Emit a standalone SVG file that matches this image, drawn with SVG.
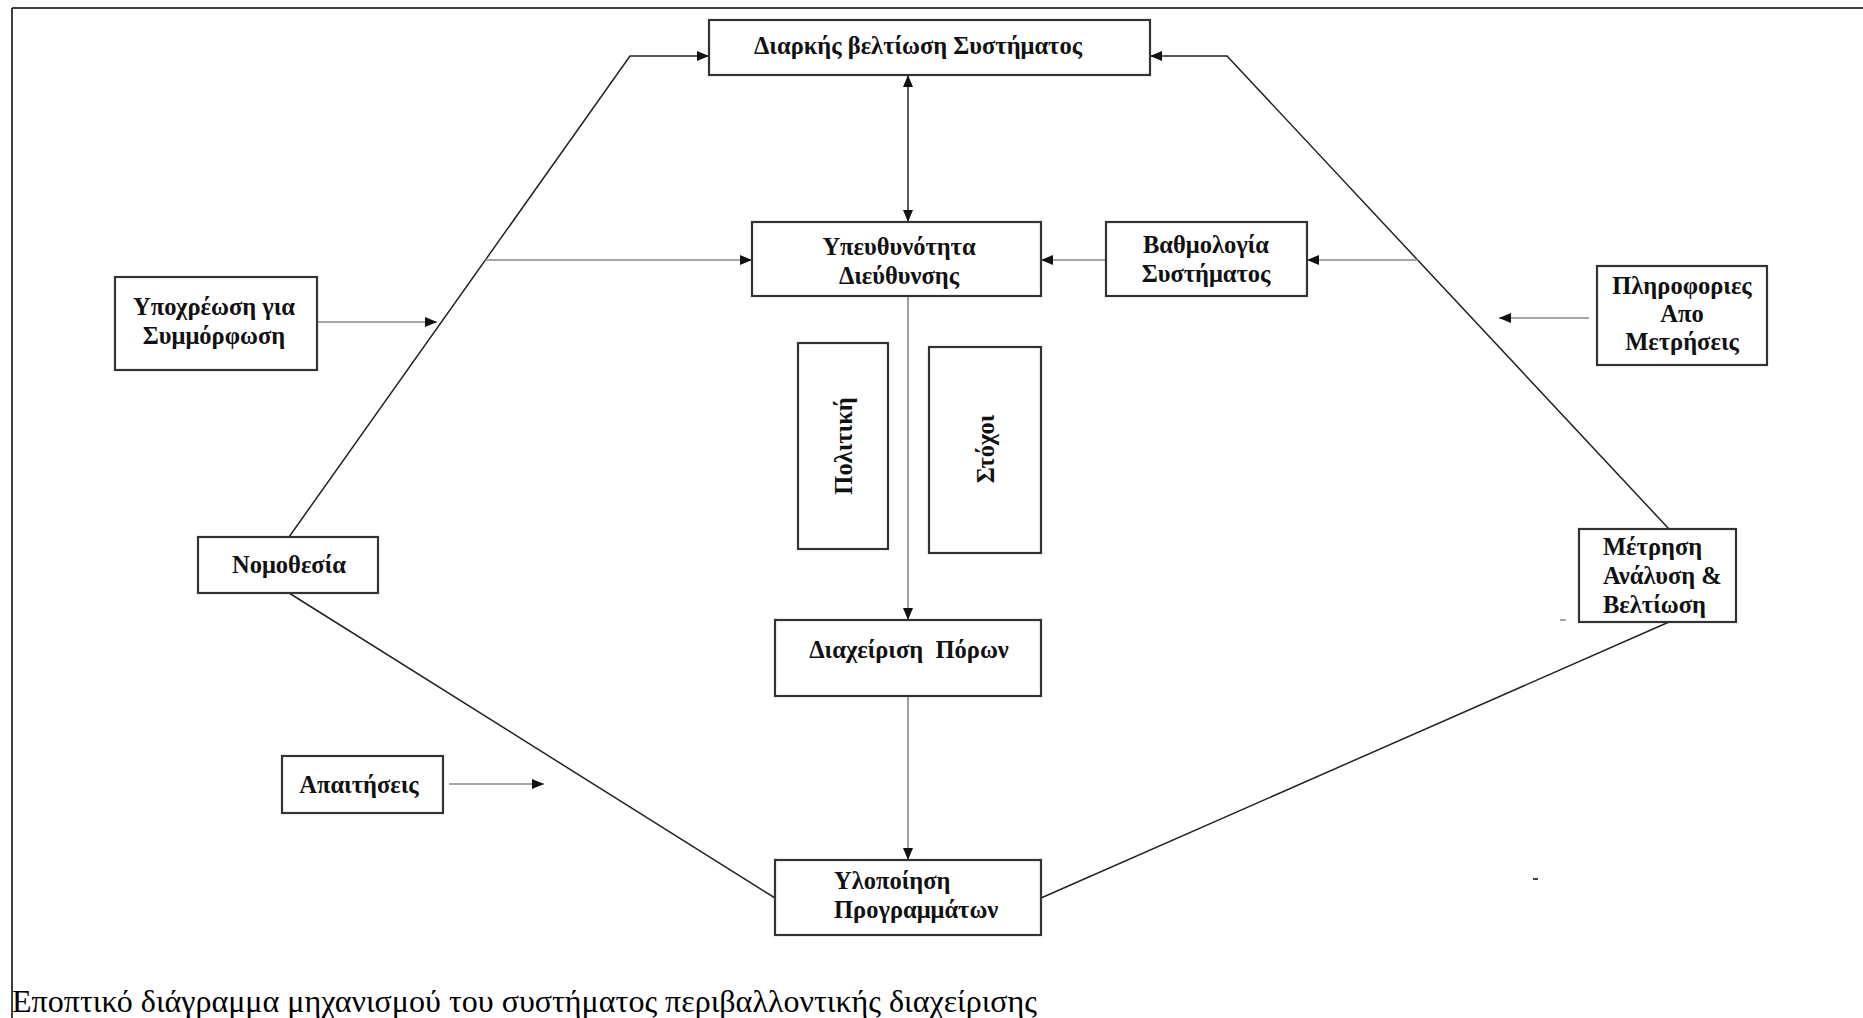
<svg xmlns="http://www.w3.org/2000/svg" width="1863" height="1018" viewBox="0 0 1863 1018">
<style>
.box{fill:#fff;stroke:#333;stroke-width:2.2}
.t{font-family:"Liberation Serif","DejaVu Serif","Times New Roman",serif;font-weight:bold;font-size:24.5px;fill:#111}
.c{stroke:#222;stroke-width:1.5;fill:none}
.g{stroke:#888;stroke-width:1.6;fill:none}
.cap{font-family:"Liberation Serif","DejaVu Serif","Times New Roman",serif;font-size:31px;fill:#000}
</style>
<defs>
<marker id="ah" viewBox="0 0 12 10" refX="12" refY="5" markerWidth="12" markerHeight="10" markerUnits="userSpaceOnUse" orient="auto-start-reverse">
<path d="M0,0 L12,5 L0,10 z" fill="#111"/>
</marker>
</defs>
<rect x="0" y="0" width="1863" height="1018" fill="#fff"/>
<g id="frame">
<line x1="12" y1="8" x2="1863" y2="8" stroke="#000" stroke-width="1.5"/>
<line x1="12" y1="8" x2="12" y2="1018" stroke="#000" stroke-width="1.5"/>
</g>
<g id="connectors">
<polyline class="c" points="289,537 630,56 709,56" marker-end="url(#ah)"/>
<polyline class="c" points="1669,529 1227,56 1150,56" marker-end="url(#ah)"/>
<line class="c" x1="908" y1="75" x2="908" y2="222" marker-start="url(#ah)" marker-end="url(#ah)"/>
<line class="g" x1="485" y1="260" x2="752" y2="260" marker-end="url(#ah)"/>
<line class="g" x1="1106" y1="260" x2="1041" y2="260" marker-end="url(#ah)"/>
<line class="g" x1="1418" y1="260" x2="1307" y2="260" marker-end="url(#ah)"/>
<line class="g" x1="317" y1="322" x2="437" y2="322" marker-end="url(#ah)"/>
<line class="g" x1="1589" y1="318" x2="1499" y2="318" marker-end="url(#ah)"/>
<line class="g" x1="908" y1="296" x2="908" y2="620" marker-end="url(#ah)"/>
<line class="g" x1="908" y1="696" x2="908" y2="860" marker-end="url(#ah)"/>
<line class="c" x1="289" y1="593" x2="775" y2="898"/>
<line class="c" x1="1669" y1="622" x2="1041" y2="898"/>
<line class="g" x1="449" y1="784" x2="544" y2="784" marker-end="url(#ah)"/>
</g>
<g id="n-diarkis"><rect class="box" x="709" y="20" width="441" height="55"/><text class="t" x="918" y="54" text-anchor="middle">Διαρκής βελτίωση Συστήματος</text></g>
<g id="n-ypeuth"><rect class="box" x="752" y="222" width="289" height="74"/><text class="t" x="899" y="255" text-anchor="middle">Υπευθυνότητα</text><text class="t" x="899" y="284" text-anchor="middle">Διεύθυνσης</text></g>
<g id="n-vathm"><rect class="box" x="1106" y="222" width="201" height="74"/><text class="t" x="1206" y="253" text-anchor="middle">Βαθμολογία</text><text class="t" x="1206" y="282" text-anchor="middle">Συστήματος</text></g>
<g id="n-ypoxr"><rect class="box" x="115" y="277" width="202" height="93"/><text class="t" x="214" y="315" text-anchor="middle">Υποχρέωση για</text><text class="t" x="214" y="344" text-anchor="middle">Συμμόρφωση</text></g>
<g id="n-plir"><rect class="box" x="1597" y="266" width="170" height="99"/><text class="t" x="1682" y="294" text-anchor="middle">Πληροφοριες</text><text class="t" x="1682" y="322" text-anchor="middle">Απο</text><text class="t" x="1682" y="350" text-anchor="middle">Μετρήσεις</text></g>
<g id="n-polit"><rect class="box" x="798" y="343" width="90" height="206"/><text class="t" transform="translate(852,446) rotate(-90)" text-anchor="middle">Πολιτική</text></g>
<g id="n-stoxoi"><rect class="box" x="929" y="347" width="112" height="206"/><text class="t" transform="translate(994,449) rotate(-90)" text-anchor="middle">Στόχοι</text></g>
<g id="n-nomo"><rect class="box" x="198" y="537" width="180" height="56"/><text class="t" x="289" y="573" text-anchor="middle">Νομοθεσία</text></g>
<g id="n-metr"><rect class="box" x="1579" y="529" width="157" height="93"/><text class="t" x="1603" y="555">Μέτρηση</text><text class="t" x="1603" y="584">Ανάλυση &amp;</text><text class="t" x="1603" y="613">Βελτίωση</text></g>
<g id="n-diax"><rect class="box" x="775" y="620" width="266" height="76"/><text class="t" x="909" y="658" text-anchor="middle" xml:space="preserve">Διαχείριση  Πόρων</text></g>
<g id="n-apait"><rect class="box" x="282" y="756" width="161" height="57"/><text class="t" x="359" y="793" text-anchor="middle">Απαιτήσεις</text></g>
<g id="n-ylop"><rect class="box" x="775" y="860" width="266" height="75"/><text class="t" x="834" y="889">Υλοποίηση</text><text class="t" x="834" y="918">Προγραμμάτων</text></g>
<g id="marks">
<line x1="1560" y1="620" x2="1566" y2="620" stroke="#888" stroke-width="1.5"/>
<line x1="1533" y1="879" x2="1538" y2="879" stroke="#444" stroke-width="2"/>
</g>
<text class="cap" x="12" y="1012" textLength="1025" lengthAdjust="spacingAndGlyphs">Εποπτικό διάγραμμα μηχανισμού του συστήματος περιβαλλοντικής διαχείρισης</text>
</svg>
